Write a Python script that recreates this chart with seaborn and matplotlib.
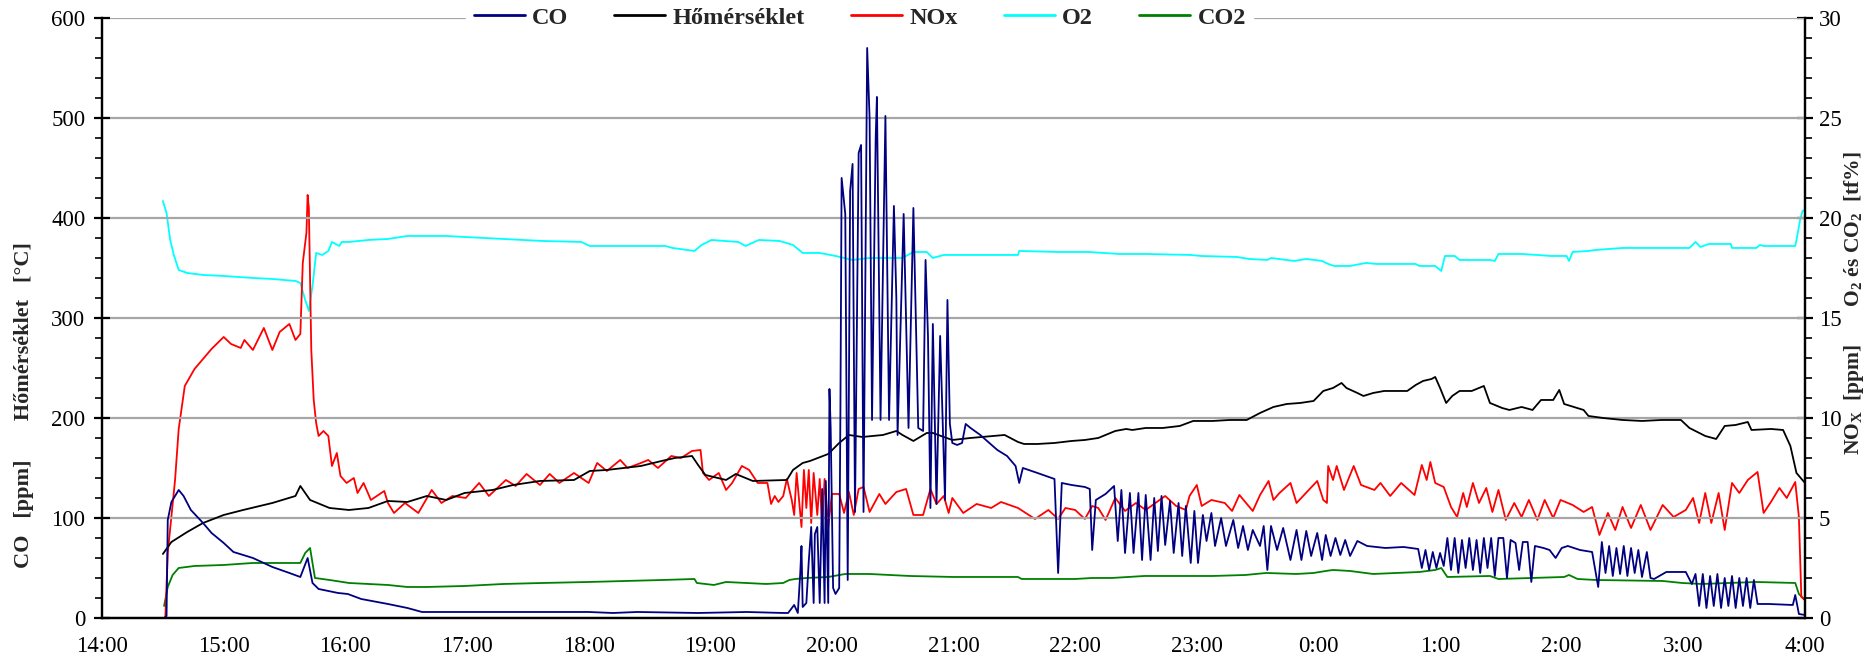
import pandas as pd
import matplotlib.pyplot as plt
import matplotlib.ticker as mticker
from matplotlib.lines import Line2D
import seaborn as sns

sns.set_style('white')
plt.rcParams['font.family'] = ['Liberation Serif', 'DejaVu Serif']
plt.rcParams['mathtext.fontset'] = 'custom'
plt.rcParams['mathtext.rm'] = 'Liberation Serif'
plt.rcParams['mathtext.bf'] = 'Liberation Serif:bold'

# idő: órák 14:00 óta
hour_labels = ['14:00', '15:00', '16:00', '17:00', '18:00', '19:00', '20:00', '21:00',
               '22:00', '23:00', '0:00', '1:00', '2:00', '3:00', '4:00']

# CO [ppm] - bal tengely
co_t = [0.51, 0.53, 0.54, 0.57, 0.63, 0.67, 0.73, 0.83, 0.90, 1.00, 1.08, 1.24, 1.40, 1.54, 1.63, 1.69,
        1.73, 1.78, 1.94, 2.02, 2.13, 2.35, 2.51, 2.63, 3.5, 4.0, 4.2, 4.4, 4.9, 5.3, 5.6,
        5.64, 5.69, 5.72, 5.74, 5.75, 5.76, 5.79, 5.81, 5.83, 5.85, 5.86, 5.88, 5.90, 5.92, 5.94, 5.95,
        5.97, 5.98, 5.99, 6.01, 6.03, 6.06, 6.07, 6.08, 6.11, 6.13, 6.15, 6.17, 6.19, 6.22, 6.24, 6.26,
        6.29, 6.31, 6.33, 6.36, 6.37, 6.40, 6.44, 6.47, 6.51, 6.53, 6.54, 6.59, 6.63, 6.67, 6.71, 6.75,
        6.77, 6.79, 6.81, 6.83, 6.86, 6.89, 6.93, 6.95, 6.97, 6.99, 7.03, 7.07, 7.10, 7.14, 7.22, 7.36,
        7.44, 7.51, 7.54, 7.57, 7.69, 7.83, 7.86, 7.89, 7.97, 8.08, 8.12, 8.14, 8.17, 8.25,
        8.32, 8.35, 8.38, 8.41, 8.45, 8.48, 8.52, 8.55, 8.58, 8.62, 8.65, 8.68, 8.71, 8.74, 8.78, 8.81,
        8.85, 8.88, 8.91, 8.95, 8.98, 9.01, 9.05, 9.08, 9.12, 9.15, 9.20, 9.24, 9.30, 9.34, 9.38, 9.42,
        9.46, 9.52, 9.55, 9.58, 9.61, 9.66, 9.71, 9.77, 9.82, 9.86, 9.90, 9.94, 9.99, 10.03, 10.06, 10.10,
        10.14, 10.18, 10.22, 10.26, 10.32, 10.40, 10.55, 10.70, 10.82,
        10.85, 10.88, 10.91, 10.94, 10.97, 11.00, 11.03,
        11.06, 11.09, 11.12, 11.15, 11.18, 11.21, 11.24, 11.27, 11.30, 11.33, 11.36, 11.39, 11.42, 11.45,
        11.48, 11.52, 11.55, 11.58, 11.62, 11.65, 11.68, 11.72, 11.75, 11.78,
        11.85, 11.90, 11.95, 12.00, 12.05, 12.15, 12.25,
        12.30, 12.33, 12.36, 12.39, 12.42, 12.45, 12.48, 12.51, 12.54, 12.57, 12.60, 12.63, 12.66, 12.70, 12.73,
        12.76, 12.86, 13.02, 13.07,
        13.10, 13.13, 13.16, 13.19, 13.22, 13.25, 13.28, 13.31, 13.34, 13.37, 13.40, 13.43, 13.46, 13.49,
        13.52, 13.55, 13.58, 13.61, 13.70, 13.90, 13.92, 13.95, 14.0]
co_v = [0, 2, 98, 116, 128, 122, 108, 95, 85, 75, 66, 60, 51, 45, 41, 60,
        35, 29, 25, 24, 19, 14, 10, 6, 6, 6, 5, 6, 5, 6, 5,
        5, 13, 5, 45, 72, 11, 15, 57, 91, 15, 84, 91, 15, 129, 15, 137,
        15, 229, 190, 30, 24, 30, 206, 440, 404, 38, 427, 454, 106, 465, 473, 106,
        570, 500, 198, 480, 521, 198, 502, 198, 412, 320, 183, 404, 190, 410, 190, 187,
        358, 282, 110, 294, 114, 282, 118, 318, 194, 175, 173, 175, 194, 190, 183, 168,
        162, 152, 135, 150, 145, 139, 45, 135, 133, 131, 129, 68, 118, 124,
        132, 77, 128, 65, 125, 65, 125, 58, 123, 58, 120, 67, 122, 73, 117, 65,
        115, 62, 112, 55, 107, 55, 103, 77, 105, 72, 100, 72, 98, 70, 92, 68,
        88, 72, 92, 48, 92, 68, 90, 58, 88, 58, 87, 62, 85, 58, 83, 62,
        80, 63, 78, 62, 77, 72, 70, 71, 69,
        50, 68, 48, 66, 50, 65, 52,
        80, 48, 80, 45, 78, 50, 80, 48, 78, 45, 80, 50, 80, 42,
        80, 80, 40, 78, 75, 48, 76, 76, 36, 72,
        70, 68, 60, 70, 72, 68, 66,
        31, 76, 45, 72, 42, 70, 44, 72, 42, 70, 45, 68, 41, 66, 40,
        39, 46, 46, 34,
        44, 12, 44, 10, 42, 12, 44, 10, 40, 12, 42, 10, 40, 12,
        40, 10, 38, 14, 14, 13, 23, 4, 3]

# Hőmérséklet [°C] - bal tengely
temp_t = [0.50, 0.57, 0.70, 0.83, 1.00, 1.16, 1.40, 1.59, 1.63, 1.71, 1.87, 2.03, 2.19, 2.35, 2.51, 2.67,
          2.83, 2.98, 3.21, 3.38, 3.60, 3.88, 4.01, 4.15, 4.43, 4.60, 4.71, 4.85, 4.90, 4.96, 5.13, 5.21,
          5.35, 5.63, 5.68, 5.76, 5.82, 5.97, 6.06, 6.14, 6.25, 6.42, 6.53, 6.58, 6.67, 6.78, 6.83, 6.92,
          6.99, 7.14, 7.42, 7.53, 7.58, 7.69, 7.83, 7.97, 8.08, 8.19, 8.33, 8.42, 8.47, 8.58, 8.72, 8.86,
          8.97, 9.13, 9.27, 9.41, 9.52, 9.63, 9.74, 9.85, 9.96, 10.04, 10.12, 10.19, 10.23, 10.32, 10.37,
          10.45, 10.54, 10.73, 10.80, 10.86, 10.93, 10.96, 11.00, 11.05, 11.10, 11.16, 11.26, 11.36, 11.41,
          11.51, 11.57, 11.67, 11.76, 11.83, 11.93, 11.98, 12.02, 12.18, 12.22, 12.34, 12.50, 12.66, 12.82,
          12.98, 13.05, 13.18, 13.27, 13.34, 13.43, 13.53, 13.56, 13.72, 13.82, 13.88, 13.93, 14.0]
temp_v = [64, 76, 86, 95, 103, 108, 115, 122, 132, 118, 110, 108, 110, 117, 116, 122,
          118, 125, 128, 133, 137, 138, 147, 148, 152, 157, 160, 162, 153, 143, 138, 144,
          137, 138, 148, 155, 157, 164, 175, 183, 181, 183, 187, 183, 177, 185, 185, 181,
          178, 180, 183, 176, 174, 174, 175, 177, 178, 180, 187, 189, 188, 190, 190, 192,
          197, 197, 198, 198, 205, 211, 214, 215, 217, 227, 230, 235, 230, 225, 222,
          225, 227, 227, 233, 237, 239, 241, 230, 215, 222, 227, 227, 232, 215,
          210, 208, 211, 208, 218, 218, 228, 214, 208, 202, 200, 198, 197, 198,
          198, 190, 182, 179, 192, 193, 196, 188, 189, 188, 172, 145, 135]

# NOx [ppm] - jobb tengely
nox_t = [0.52, 0.54, 0.60, 0.63, 0.68, 0.76, 0.83, 0.90, 1.00, 1.06, 1.14, 1.17, 1.24, 1.33, 1.40, 1.46,
         1.54, 1.59, 1.63, 1.65, 1.68, 1.69, 1.70, 1.72, 1.74, 1.76, 1.78, 1.82, 1.86, 1.89, 1.93, 1.96,
         2.01, 2.07, 2.10, 2.15, 2.21, 2.32, 2.35, 2.40, 2.49, 2.60, 2.71, 2.79, 2.88, 2.99, 3.10, 3.18,
         3.32, 3.40, 3.49, 3.60, 3.68, 3.76, 3.88, 4.00, 4.07, 4.15, 4.26, 4.32, 4.43, 4.49, 4.57, 4.68,
         4.76, 4.85, 4.92, 4.94, 4.99, 5.07, 5.13, 5.18, 5.26, 5.32, 5.39, 5.47, 5.50, 5.53, 5.56, 5.60,
         5.63, 5.67, 5.69, 5.71, 5.75, 5.77, 5.79, 5.81, 5.83, 5.85, 5.88, 5.90, 5.92, 5.94, 5.97, 6.00,
         6.06, 6.10, 6.14, 6.18, 6.22, 6.26, 6.31, 6.39, 6.44, 6.53, 6.61, 6.67, 6.75, 6.81, 6.86, 6.92,
         6.96, 6.99, 7.08, 7.19, 7.31, 7.39, 7.53, 7.67, 7.78, 7.86, 7.92, 8.00, 8.08, 8.14, 8.19, 8.25,
         8.33, 8.41, 8.50, 8.58, 8.66, 8.74, 8.83, 8.91, 8.94, 9.00, 9.04, 9.12, 9.23, 9.29, 9.35, 9.46,
         9.52, 9.59, 9.63, 9.68, 9.77, 9.82, 9.99, 10.04, 10.07, 10.08, 10.12, 10.15, 10.21, 10.29, 10.35,
         10.46, 10.51, 10.59, 10.68, 10.79, 10.85, 10.89, 10.92, 10.96, 11.03, 11.09, 11.14, 11.19, 11.22,
         11.27, 11.32, 11.38, 11.43, 11.48, 11.54, 11.61, 11.67, 11.73, 11.80, 11.86, 11.93, 11.99, 12.09,
         12.18, 12.25, 12.31, 12.38, 12.44, 12.50, 12.57, 12.65, 12.73, 12.83, 12.92, 13.02, 13.08, 13.13,
         13.18, 13.23, 13.29, 13.34, 13.40, 13.46, 13.53, 13.61, 13.66, 13.72, 13.79, 13.85, 13.92, 13.95,
         13.97, 14.0]
nox_v = [0, 3.25, 6.9, 9.45, 11.6, 12.45, 12.95, 13.45, 14.05, 13.7, 13.5, 13.9, 13.4, 14.5, 13.4, 14.3,
         14.7, 13.9, 14.2, 17.75, 19.25, 21.15, 20.5, 13.4, 10.9, 9.75, 9.1, 9.35, 9.1, 7.6, 8.25, 7.1,
         6.75, 7.0, 6.25, 6.75, 5.9, 6.35, 5.75, 5.25, 5.75, 5.25, 6.4, 5.75, 6.1, 6.0, 6.75, 6.1,
         6.9, 6.6, 7.2, 6.65, 7.2, 6.75, 7.25, 6.75, 7.75, 7.35, 7.9, 7.5, 7.75, 7.9, 7.5, 8.1,
         8.0, 8.35, 8.4, 7.25, 6.9, 7.25, 6.4, 6.75, 7.6, 7.4, 6.75, 6.75, 5.7, 6.1, 5.8, 6.1,
         6.95, 5.9, 5.15, 7.25, 4.55, 7.4, 5.5, 7.4, 4.75, 7.25, 5.15, 6.95, 4.55, 6.95, 4.55, 6.2,
         6.2, 5.25, 6.3, 5.15, 6.45, 6.55, 5.3, 6.2, 5.7, 6.3, 6.45, 5.15, 5.15, 6.45, 5.7, 6.1,
         5.25, 6.0, 5.25, 5.7, 5.5, 5.8, 5.5, 4.95, 5.4, 4.95, 5.5, 5.4, 4.95, 5.6, 5.5, 4.9,
         6.0, 5.35, 5.75, 5.4, 5.75, 6.1, 5.6, 5.4, 6.1, 6.65, 5.6, 5.9, 5.75, 5.35, 6.15, 5.35,
         6.15, 6.85, 5.9, 6.25, 6.75, 5.75, 6.85, 5.9, 5.75, 7.6, 6.9, 7.6, 6.4, 7.6, 6.65,
         6.4, 6.75, 6.1, 6.75, 6.15, 7.65, 6.9, 7.8, 6.75, 6.55, 5.55, 5.05, 6.25, 5.55,
         6.75, 5.75, 6.5, 5.3, 6.4, 4.9, 5.75, 5.05, 5.9, 4.9, 5.9, 5.0, 5.9, 5.65,
         5.3, 5.55, 4.15, 5.25, 4.4, 5.55, 4.5, 5.65, 4.4, 5.65, 5.05, 5.4, 6.0, 4.75,
         6.25, 4.75, 6.25, 4.4, 6.75, 6.25, 6.9, 7.3, 5.25, 5.8, 6.5, 6.0, 6.8, 5.05,
         1.05, 0.9]

# O2 [tf%] - jobb tengely
o2_t = [0.50, 0.53, 0.56, 0.59, 0.63, 0.70, 0.83, 1.00, 1.24, 1.40, 1.59, 1.63, 1.67, 1.70, 1.73, 1.76,
        1.81, 1.86, 1.89, 1.95, 1.97, 2.03, 2.19, 2.35, 2.51, 2.67, 2.83, 2.98, 3.30, 3.62, 3.94, 4.01,
        4.63, 4.69, 4.87, 4.93, 5.01, 5.23, 5.29, 5.40, 5.57, 5.68, 5.76, 5.90, 6.03, 6.17, 6.31, 6.58,
        6.67, 6.78, 6.83, 6.92, 7.53, 7.54, 7.86, 8.11, 8.36, 8.58, 8.95, 9.03, 9.33, 9.43, 9.58, 9.61,
        9.80, 9.90, 10.03, 10.08, 10.13, 10.26, 10.39, 10.48, 10.80, 10.83, 10.96, 11.01, 11.04, 11.12,
        11.16, 11.41, 11.45, 11.48, 11.67, 11.80, 11.91, 12.04, 12.06, 12.09, 12.22, 12.28, 12.50, 12.83,
        13.05, 13.10, 13.14, 13.21, 13.39, 13.40, 13.60, 13.63, 13.66, 13.92, 13.93, 13.96, 13.98, 14.0]
o2_v = [20.85, 20.25, 18.9, 18.15, 17.4, 17.25, 17.15, 17.1, 17.0, 16.95, 16.85, 16.75, 15.9, 15.35, 16.6, 18.25,
        18.15, 18.35, 18.8, 18.6, 18.8, 18.8, 18.9, 18.95, 19.1, 19.1, 19.1, 19.05, 18.95, 18.85, 18.8, 18.6,
        18.6, 18.5, 18.35, 18.65, 18.9, 18.8, 18.6, 18.9, 18.85, 18.65, 18.25, 18.25, 18.1, 17.9, 18.0, 18.0,
        18.3, 18.3, 18.0, 18.15, 18.15, 18.35, 18.3, 18.3, 18.2, 18.2, 18.15, 18.1, 18.05, 17.95, 17.9, 18.0,
        17.85, 17.95, 17.85, 17.7, 17.6, 17.6, 17.75, 17.7, 17.7, 17.6, 17.6, 17.35, 18.1, 18.1,
        17.9, 17.9, 17.85, 18.2, 18.2, 18.15, 18.1, 18.1, 17.85, 18.3, 18.35, 18.4, 18.5, 18.5,
        18.5, 18.8, 18.55, 18.7, 18.7, 18.5, 18.5, 18.65, 18.6, 18.6, 18.9, 19.9, 20.35, 20.4]

# CO2 [tf%] - jobb tengely
co2_t = [0.51, 0.54, 0.58, 0.63, 0.76, 1.00, 1.24, 1.40, 1.63, 1.67, 1.71, 1.75, 1.87, 2.03, 2.35, 2.51,
         2.67, 2.98, 3.30, 3.62, 4.00, 4.61, 4.87, 4.89, 5.03, 5.13, 5.46, 5.60, 5.65, 5.70, 5.79, 5.97,
         6.11, 6.31, 6.64, 7.00, 7.53, 7.56, 8.00, 8.14, 8.30, 8.57, 8.91, 9.13, 9.40, 9.57, 9.82, 9.96,
         10.06, 10.12, 10.26, 10.45, 10.83, 10.96, 11.01, 11.06, 11.41, 11.48, 12.02, 12.06, 12.13, 12.28,
         12.83, 12.99, 13.15, 13.60, 13.92, 13.95, 14.0]
co2_v = [0.6, 1.55, 2.15, 2.5, 2.6, 2.65, 2.75, 2.75, 2.75, 3.25, 3.5, 2.0, 1.9, 1.75, 1.65, 1.55,
         1.55, 1.6, 1.7, 1.75, 1.8, 1.9, 1.95, 1.75, 1.65, 1.8, 1.7, 1.75, 1.9, 1.95, 2.0, 2.05,
         2.2, 2.2, 2.1, 2.05, 2.05, 1.95, 1.95, 2.0, 2.0, 2.1, 2.1, 2.1, 2.15, 2.25, 2.2, 2.25,
         2.35, 2.4, 2.35, 2.2, 2.3, 2.4, 2.5, 2.05, 2.1, 1.95, 2.05, 2.15, 1.95, 1.9,
         1.85, 1.75, 1.7, 1.8, 1.75, 1.2, 0.9]

co = pd.DataFrame({'t': co_t, 'v': co_v})
temp = pd.DataFrame({'t': temp_t, 'v': temp_v})
nox = pd.DataFrame({'t': nox_t, 'v': nox_v})
o2 = pd.DataFrame({'t': o2_t, 'v': o2_v})
co2 = pd.DataFrame({'t': co2_t, 'v': co2_v})

colors = {'CO': '#000080', 'Hőmérséklet': '#000000', 'NOx': '#ff0000', 'O2': '#00ffff', 'CO2': '#008000'}

fig = plt.figure(figsize=(18.66, 6.65), dpi=100)
ax = fig.add_axes([0.0547, 0.0707, 0.9126, 0.9023])
ax2 = ax.twinx()

lw = 1.3
sns.lineplot(data=co2, x='t', y='v', ax=ax2, color=colors['CO2'], lw=lw, estimator=None)
sns.lineplot(data=o2, x='t', y='v', ax=ax2, color=colors['O2'], lw=lw, estimator=None)
sns.lineplot(data=nox, x='t', y='v', ax=ax2, color=colors['NOx'], lw=lw, estimator=None)
sns.lineplot(data=temp, x='t', y='v', ax=ax, color=colors['Hőmérséklet'], lw=lw, estimator=None)
sns.lineplot(data=co, x='t', y='v', ax=ax, color=colors['CO'], lw=lw, estimator=None)

# a bal tengely vonalai kerüljenek előre
ax.set_zorder(ax2.get_zorder() + 1)
ax.patch.set_visible(False)

ax.set_xlim(0, 14)
ax.set_ylim(0, 600)
ax2.set_ylim(0, 30)

ax.xaxis.set_major_locator(mticker.FixedLocator(range(15)))
ax.set_xticklabels(hour_labels)
ax.xaxis.set_minor_locator(mticker.MultipleLocator(0.5))
ax.yaxis.set_major_locator(mticker.MultipleLocator(100))
ax.yaxis.set_minor_locator(mticker.MultipleLocator(20))
ax2.yaxis.set_major_locator(mticker.MultipleLocator(5))
ax2.yaxis.set_minor_locator(mticker.MultipleLocator(1))

for a in (ax, ax2):
    a.spines['top'].set_visible(False)
    for s in ('left', 'right', 'bottom'):
        a.spines[s].set_linewidth(1.6)
        a.spines[s].set_color('black')
    a.tick_params(which='major', direction='inout', length=12, width=1.6, labelsize=16.5, colors='black')
    a.tick_params(which='minor', direction='out', length=5, width=1.2, colors='black')
ax.tick_params(axis='x', which='major', pad=7)
ax.tick_params(axis='y', which='major', pad=6)
ax2.tick_params(axis='y', which='major', pad=4)

ax.yaxis.grid(True, which='major', color='#a6a6a6', lw=1.6)
ax.set_axisbelow(True)

ax.set_xlabel('')
ax.set_ylabel('CO   [ppm]       Hőmérséklet   [°C]', fontsize=16, fontweight='bold')
ax.yaxis.set_label_coords(-0.04, 0.355)
ax2.set_ylabel(r'NO$_\mathbf{X}$  [ppm]       O$_\mathbf{2}$ és CO$_\mathbf{2}$  [tf%]',
               fontsize=15.5, fontweight='bold', rotation=90)
ax2.yaxis.set_label_coords(1.022, 0.525)

handles = [Line2D([0], [0], color=c, lw=2) for c in colors.values()]
leg = ax.legend(handles, list(colors.keys()), loc='center', bbox_to_anchor=(0.445, 1.0), ncol=5,
                frameon=True, facecolor='white', edgecolor='white', framealpha=1,
                prop={'weight': 'bold', 'size': 17.5}, handlelength=2.1, handletextpad=0.3,
                columnspacing=1.9, borderpad=0.3)
leg.set_zorder(10)

fig.savefig('out.png', dpi=100)
